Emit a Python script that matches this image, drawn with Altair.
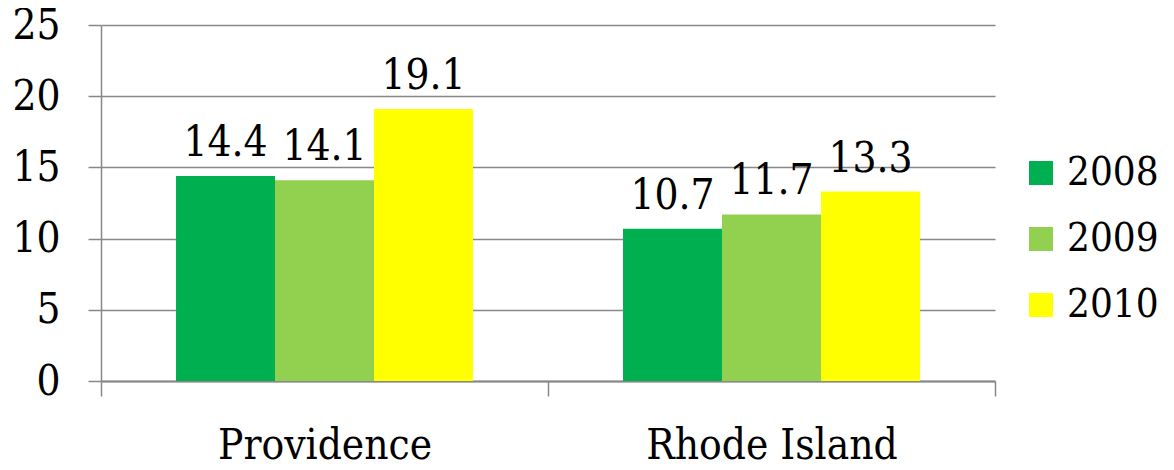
import altair as alt
import pandas as pd

regions = ["Providence", "Rhode Island"]
years = ["2008", "2009", "2010"]
values = {
    "2008": [14.4, 10.7],
    "2009": [14.1, 11.7],
    "2010": [19.1, 13.3],
}
colors = ["#00B050", "#92D050", "#FFFF00"]

rows = []
for y in years:
    for r, v in zip(regions, values[y]):
        rows.append({"region": r, "year": y, "value": v})
df = pd.DataFrame(rows)

FONT = "DejaVu Serif Condensed"
FS = 42
GRID = "#888888"

x = alt.X("region:N", sort=regions,
          scale=alt.Scale(paddingInner=0, paddingOuter=0),
          axis=alt.Axis(title=None, labelAngle=0, labelFont=FONT, labelFontSize=FS,
                        labelColor="black", tickBand="extent", tickSize=15,
                        tickColor=GRID, tickWidth=1.5, domainColor=GRID,
                        domainWidth=2, labelPadding=29, grid=False, labelLimit=600))
xo = alt.XOffset("year:N", sort=years,
                 scale=alt.Scale(paddingInner=0, paddingOuter=0.758))
y = alt.Y("value:Q", scale=alt.Scale(domain=[0, 25], nice=False),
          axis=alt.Axis(title=None, values=[0, 5, 10, 15, 20, 25], labelFont=FONT,
                        labelFontSize=FS, labelColor="black", tickSize=13,
                        tickColor=GRID, tickWidth=1.5, domainColor=GRID,
                        domainWidth=1.5, gridColor=GRID, gridWidth=1.3,
                        labelPadding=28))

bars = alt.Chart(df).mark_bar(size=99).encode(
    x=x, xOffset=xo, y=y,
    color=alt.Color("year:N", sort=years,
                    scale=alt.Scale(domain=years, range=colors),
                    legend=alt.Legend(title=None, orient="none", legendX=920, legendY=128,
                                      symbolType="square", symbolSize=576,
                                      symbolStrokeWidth=0, labelFont=FONT,
                                      labelFontSize=40, labelColor="black",
                                      rowPadding=26, labelOffset=6)),
)

labels = alt.Chart(df).mark_text(font=FONT, fontSize=FS, baseline="bottom", dy=-11,
                                 color="black").encode(
    x=alt.X("region:N", sort=regions), xOffset=alt.XOffset("year:N", sort=years),
    y="value:Q", text=alt.Text("value:Q", format=".1f"))

chart = (bars + labels).properties(
    width=894, height=356,
    autosize=alt.AutoSizeParams(type="none"),
    padding={"left": 93, "top": 17, "right": 171, "bottom": 81},
).configure_view(stroke=None).configure_axisY(domain=True)

chart.save("out.html", embed_options={"renderer": "svg", "actions": False})
